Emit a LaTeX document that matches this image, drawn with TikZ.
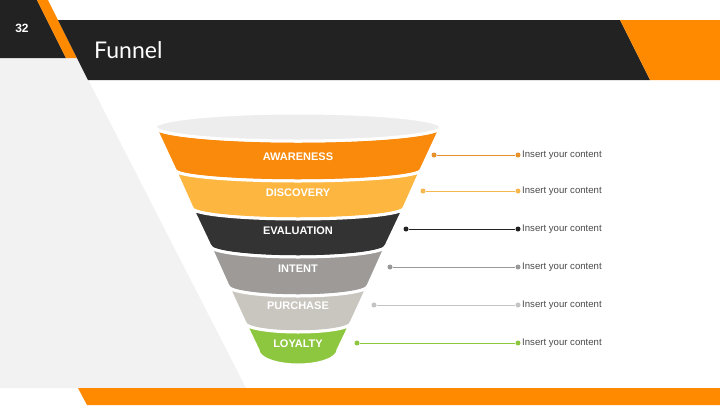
\documentclass[tikz,border=0pt]{standalone}
\usepackage{fontspec}
\setmainfont{Liberation Sans}
\newfontfamily\titlefont{Lato}
\definecolor{orangeA}{HTML}{FF8A00}
\definecolor{darkband}{HTML}{222222}
\definecolor{lightbg}{HTML}{F2F2F2}
\definecolor{segA}{HTML}{F98A0C}
\definecolor{segB}{HTML}{FDB640}
\definecolor{segC}{HTML}{333333}
\definecolor{segD}{HTML}{9E9A98}
\definecolor{segE}{HTML}{C9C5BF}
\definecolor{segF}{HTML}{8DC63F}
\definecolor{rimcol}{HTML}{EDEDED}
\definecolor{lnA}{HTML}{E8902A}
\definecolor{lnB}{HTML}{F5B74E}
\definecolor{lnC}{HTML}{222222}
\definecolor{lnD}{HTML}{999999}
\definecolor{lnE}{HTML}{C4C4C4}
\definecolor{lnF}{HTML}{8DC63F}
\definecolor{txtgray}{HTML}{4A4A4A}
\begin{document}
\begin{tikzpicture}[x=1pt,y=-1pt,
  seg/.style={draw=white,line width=3pt,line join=round},
  lab/.style={text=white,font=\bfseries\fontsize{11}{12}\selectfont,inner sep=0pt},
  info/.style={text=txtgray,font=\fontsize{9.6}{11}\selectfont,anchor=west,inner sep=0pt},
  conn/.style={line width=1pt},
  dotc/.style={circle,inner sep=0pt,minimum size=5pt}
]
\useasboundingbox (0,0) rectangle (720,405);
\fill[white] (0,0) rectangle (720,405);
% light gray left panel
\fill[lightbg] (0,58) -- (77,58) -- (246,388) -- (0,388) -- cycle;
% top left black block
\fill[darkband] (0,0) -- (37,0) -- (66,58) -- (0,58) -- cycle;
% orange stripe
\fill[orangeA] (37,0) -- (48,0) -- (77,58) -- (66,58) -- cycle;
% black title band
\fill[darkband] (58,20) -- (620,20) -- (650,80) -- (88,80) -- cycle;
% orange right block
\fill[orangeA] (620,20) -- (720,20) -- (720,80) -- (650,80) -- cycle;
% bottom orange bar
\fill[orangeA] (78,388) -- (720,388) -- (720,405) -- (87,405) -- cycle;

\node[text=white,font=\bfseries\fontsize{12}{14}\selectfont] (num) at (22,28) {32};
\node[text=white,font=\titlefont\fontsize{23}{26}\selectfont,anchor=west,inner sep=0pt] (title) at (94,50) {Funnel};

% funnel segments: levels y / half widths
% L0=127 hw143, L1=170 hw123, L2=208 hw106, L3=246 hw88, L4=286 hw70, L5=323 hw53, L6=352 hw40
\path[seg,fill=segA] (155,127) arc[start angle=180,end angle=0,x radius=143,y radius=14]
  -- (421,170) arc[start angle=0,end angle=180,x radius=123,y radius=11] -- cycle;
\path[seg,fill=segB] (175,170) arc[start angle=180,end angle=0,x radius=123,y radius=11]
  -- (404,208) arc[start angle=0,end angle=180,x radius=106,y radius=11] -- cycle;
\path[seg,fill=segC] (192,208) arc[start angle=180,end angle=0,x radius=106,y radius=11]
  -- (386,246) arc[start angle=0,end angle=180,x radius=88,y radius=11] -- cycle;
\path[seg,fill=segD] (210,246) arc[start angle=180,end angle=0,x radius=88,y radius=11]
  -- (368,286) arc[start angle=0,end angle=180,x radius=70,y radius=10] -- cycle;
\path[seg,fill=segE] (228,286) arc[start angle=180,end angle=0,x radius=70,y radius=10]
  -- (351,323) arc[start angle=0,end angle=180,x radius=53,y radius=9] -- cycle;
\path[seg,fill=segF] (245,323) arc[start angle=180,end angle=0,x radius=53,y radius=9]
  -- (338,350) arc[start angle=0,end angle=180,x radius=40,y radius=15] -- cycle;
% rim
\path[seg,fill=rimcol] (298,127) ellipse[x radius=143,y radius=14];

\node[lab] (aw) at (298,157) {AWARENESS};
\node[lab] (di) at (298,193) {DISCOVERY};
\node[lab] (ev) at (298,231) {EVALUATION};
\node[lab] (in) at (298,269) {INTENT};
\node[lab] (pu) at (298,306) {PURCHASE};
\node[lab] (lo) at (298,344) {LOYALTY};

% connectors
\foreach \n/\xs/\yy/\c in {a/434/155/lnA, b/423/191/lnB, c/406/229/lnC, d/390/267/lnD, e/374/305/lnE, f/357/343/lnF}{
  \node[dotc,fill=\c] (s\n) at (\xs,\yy) {};
  \node[dotc,fill=\c] (t\n) at (518,\yy) {};
  \draw[conn,\c] (s\n) -- (t\n);
  \node[info] (i\n) at (522,\yy) {Insert your content};
}
\end{tikzpicture}
\end{document}
